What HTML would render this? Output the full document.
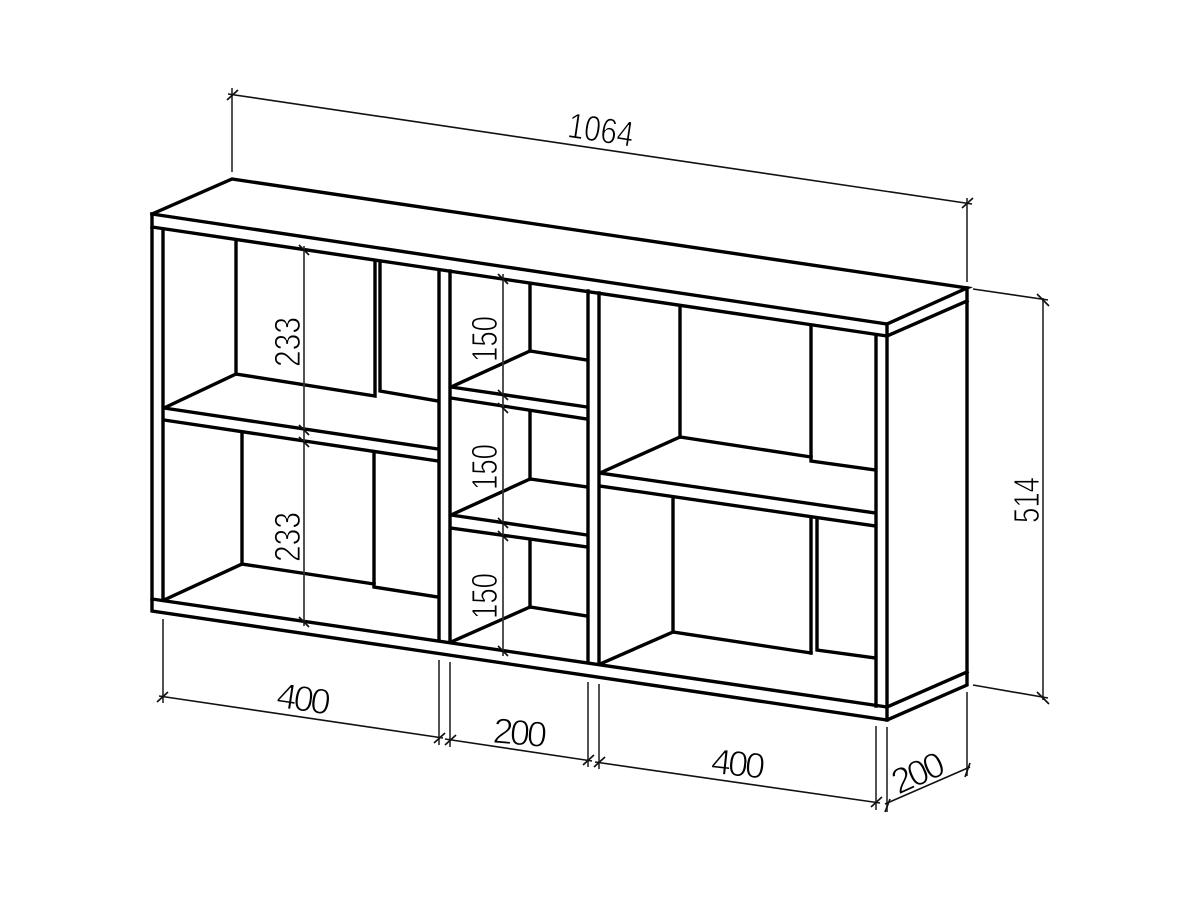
<!DOCTYPE html>
<html>
<head>
<meta charset="utf-8">
<style>
html,body{margin:0;padding:0;background:#fff;width:1200px;height:900px;overflow:hidden}
svg{display:block}
.m{fill:none;stroke:#000;stroke-width:3.4;stroke-linejoin:miter;stroke-linecap:square}
.d{fill:none;stroke:#111;stroke-width:1.6}
.e{fill:none;stroke:#333;stroke-width:1.7}
.t{fill:none;stroke:#111;stroke-width:1.7}
text{font-family:"Liberation Sans",sans-serif;font-size:36px;fill:#000;stroke:#fff;stroke-width:0.9;text-anchor:middle;dominant-baseline:alphabetic}
</style>
</head>
<body>
<svg width="1200" height="900" viewBox="0 0 1200 900" xmlns="http://www.w3.org/2000/svg">
<rect width="1200" height="900" fill="#fff"/>

<!-- carcass -->
<g class="m">
<polyline points="152,214 232,179 967,288 887,324 152,214"/>
<polyline points="152,214 152,611 887,720 967,685 967,288"/>
<line x1="152" y1="227" x2="887" y2="336"/>
<line x1="887" y1="324" x2="887" y2="720"/>
<line x1="887" y1="336" x2="967" y2="301"/>
<line x1="887" y1="707" x2="967" y2="672"/>
<line x1="152" y1="599" x2="887" y2="707"/>
<line x1="163" y1="229" x2="163" y2="600"/>
<line x1="876" y1="335" x2="876" y2="706"/>
<line x1="439" y1="270" x2="439" y2="640"/>
<line x1="450" y1="271" x2="450" y2="642"/>
<line x1="588" y1="291" x2="588" y2="662"/>
<line x1="599" y1="293" x2="599" y2="664"/>
</g>

<!-- left column -->
<g class="m">
<polyline points="236,240 236,374 375,396 375,263"/>
<polyline points="380,264 380,391 438,401"/>
<line x1="164" y1="408" x2="236" y2="374"/>
<line x1="164" y1="408" x2="438" y2="449"/>
<line x1="164" y1="420" x2="438" y2="461"/>
<polyline points="242,433 242,564 374,584"/>
<polyline points="374,452 374,587 438,597"/>
<line x1="164" y1="600" x2="242" y2="564"/>
</g>

<!-- middle column -->
<g class="m">
<polyline points="451,387 530,351 587,360"/>
<line x1="530" y1="285" x2="530" y2="351"/>
<line x1="451" y1="387" x2="587" y2="407"/>
<line x1="451" y1="398" x2="587" y2="419"/>
<polyline points="451,515 530,479 587,487"/>
<line x1="530" y1="413" x2="530" y2="479"/>
<line x1="451" y1="515" x2="587" y2="535"/>
<line x1="451" y1="528" x2="587" y2="547"/>
<polyline points="451,642 530,607 587,616"/>
<line x1="530" y1="541" x2="530" y2="607"/>
</g>

<!-- right column -->
<g class="m">
<polyline points="600,473 680,437 811,457"/>
<line x1="680" y1="307" x2="680" y2="437"/>
<polyline points="811,327 811,461 875,470"/>
<line x1="600" y1="473" x2="875" y2="513"/>
<line x1="600" y1="486" x2="875" y2="526"/>
<polyline points="600,664 673,632 811,653"/>
<line x1="673" y1="499" x2="673" y2="632"/>
<line x1="811" y1="519" x2="811" y2="653"/>
<polyline points="817,520 817,650 875,658"/>
</g>

<!-- extension lines -->
<g class="e">
<line x1="232" y1="88" x2="232" y2="172"/>
<line x1="967" y1="198" x2="967" y2="282"/>
<line x1="163" y1="619" x2="163" y2="703"/>
<line x1="439" y1="660" x2="439" y2="745"/>
<line x1="450" y1="662" x2="450" y2="747"/>
<line x1="588" y1="682" x2="588" y2="767"/>
<line x1="599" y1="684" x2="599" y2="769"/>
<line x1="876" y1="726" x2="876" y2="810"/>
<line x1="887" y1="727" x2="887" y2="812"/>
<line x1="967" y1="692" x2="967" y2="776"/>
<line x1="304" y1="246" x2="304" y2="626"/>
<line x1="503" y1="274" x2="503" y2="656"/>
<line x1="1043" y1="298" x2="1043" y2="700"/>
</g>

<!-- dimension lines -->
<g class="d">
<line x1="228" y1="94" x2="972" y2="204"/>
<line x1="973" y1="289" x2="1048" y2="300"/>
<line x1="973" y1="685" x2="1048" y2="698"/>
<line x1="159" y1="696" x2="443" y2="738"/>
<line x1="445" y1="739" x2="592" y2="761"/>
<line x1="595" y1="762" x2="880" y2="803"/>
<line x1="885" y1="804" x2="970" y2="767"/>
</g>

<!-- ticks -->
<g class="t">
<path d="M227,100 L238,90 M962,208 L973,198 M1037,294 L1049,306 M1037,692 L1049,704"/>
<path d="M157,702 L168,692 M434,743 L445,733 M445,745 L456,735 M583,765 L594,755 M594,767 L605,757 M871,807 L882,797 M885,812 L890,799 M965,777 L970,763"/>
<path d="M299,245 L309,255 M299,425 L309,435 M299,437 L309,447 M299,617 L309,627"/>
<path d="M498,274 L508,284 M498,390 L508,400 M498,403 L508,413 M498,518 L508,528 M498,531 L508,541 M498,646 L508,656"/>
</g>

<!-- labels -->
<text transform="translate(599,142) rotate(8.5)" textLength="66" lengthAdjust="spacingAndGlyphs">1064</text>
<text transform="translate(1039,500) rotate(-90)" textLength="46" lengthAdjust="spacingAndGlyphs">514</text>
<text transform="translate(300,342) rotate(-90)" textLength="50" lengthAdjust="spacingAndGlyphs">233</text>
<text transform="translate(300,537) rotate(-90)" textLength="50" lengthAdjust="spacingAndGlyphs">233</text>
<text transform="translate(497,339) rotate(-90)" textLength="46" lengthAdjust="spacingAndGlyphs">150</text>
<text transform="translate(497,467) rotate(-90)" textLength="46" lengthAdjust="spacingAndGlyphs">150</text>
<text transform="translate(497,596) rotate(-90)" textLength="46" lengthAdjust="spacingAndGlyphs">150</text>
<text transform="translate(302,711) rotate(8.5)" textLength="54" lengthAdjust="spacing">400</text>
<text transform="translate(519,745) rotate(5)" textLength="54" lengthAdjust="spacing">200</text>
<text transform="translate(737,776) rotate(6)" textLength="54" lengthAdjust="spacing">400</text>
<text transform="translate(923,784) rotate(-24)" textLength="54" lengthAdjust="spacing">200</text>
</svg>
</body>
</html>
